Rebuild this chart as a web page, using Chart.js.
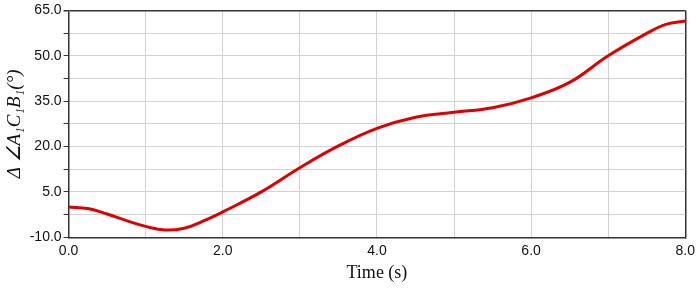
<!DOCTYPE html>
<html>
<head>
<meta charset="utf-8">
<script src="https://cdn.jsdelivr.net/npm/chart.js@4"></script>
<style>
  body { margin: 0; background: #fff; }
  canvas { display: block; }
</style>
</head>
<body>
<canvas id="angle" width="700" height="288"></canvas>
<script>
// time (s) and angle change (deg)
const times = [0, 0.25, 0.5, 0.75, 1.0, 1.25, 1.5, 1.75, 2.0, 2.5, 3.0, 3.5, 4.0, 4.5, 5.0, 5.5, 6.0, 6.5, 7.0, 7.5, 7.75, 8.0];
const angles = [0.0, -0.5, -2.3, -4.5, -6.4, -7.6, -7.0, -4.6, -1.6, 5.0, 13.0, 20.2, 26.0, 29.7, 31.3, 32.8, 36.1, 41.2, 50.0, 57.4, 60.4, 61.5];

const yLabels = [-10, 5, 20, 35, 50, 65];
const xLabels = [0, 2, 4, 6, 8];

const points = times.map(function (t, i) { return { x: t, y: angles[i] }; });

const frame = '#333';
const gridColor = '#d2d2d2';

new Chart(document.getElementById('angle'), {
    type: 'line',
    data: {
        datasets: [{
            data: points,
            borderColor: '#e00000',
            borderWidth: 3,
            pointRadius: 0,
            tension: 0.4,
            fill: false
        }]
    },
    options: {
        responsive: false,
        animation: false,
        layout: { padding: { left: 0, right: 10.7, top: 7.3, bottom: 0 } },
        plugins: { legend: { display: false }, tooltip: { enabled: false } },
        scales: {
            x: {
                type: 'linear',
                min: 0,
                max: 8,
                border: { color: frame, width: 1.5 },
                grid: {
                    color: function (ctx) { return ctx.tick && ctx.tick.value === 8 ? frame : gridColor; },
                    lineWidth: function (ctx) { return ctx.tick && ctx.tick.value === 8 ? 1.5 : 1; },
                    tickLength: 0
                },
                ticks: {
                    stepSize: 1,
                    autoSkip: false,
                    maxRotation: 0,
                    padding: 5,
                    color: '#111',
                    font: { family: 'Liberation Sans', size: 14 },
                    callback: function (v) { return xLabels.includes(v) ? v.toFixed(1) : ''; }
                },
                title: {
                    display: true,
                    text: 'Time (s)',
                    color: '#111',
                    font: { family: 'Liberation Serif', size: 18 },
                    padding: { top: 0, bottom: 4 }
                },
                afterFit: function (scale) { scale.height = 50.7; }
            },
            y: {
                min: -10,
                max: 65,
                border: { color: frame, width: 1.5 },
                grid: {
                    color: function (ctx) { return ctx.tick && ctx.tick.value === 65 ? frame : gridColor; },
                    lineWidth: function (ctx) { return ctx.tick && ctx.tick.value === 65 ? 1.5 : 1; },
                    tickColor: frame,
                    tickLength: 5
                },
                ticks: {
                    stepSize: 7.5,
                    autoSkip: false,
                    padding: 2,
                    color: '#111',
                    font: { family: 'Liberation Sans', size: 14 },
                    callback: function (v) { return yLabels.includes(v) ? v.toFixed(1) : ''; }
                },
                title: {
                    display: true,
                    text: 'Δ ∠A₁C₁B₁(°)',
                    color: '#111',
                    font: { family: 'Liberation Serif', size: 19, style: 'italic' },
                    padding: { top: 4, bottom: 0 }
                },
                afterFit: function (scale) { scale.width = 68.6; }
            }
        }
    }
});
</script>
</body>
</html>
